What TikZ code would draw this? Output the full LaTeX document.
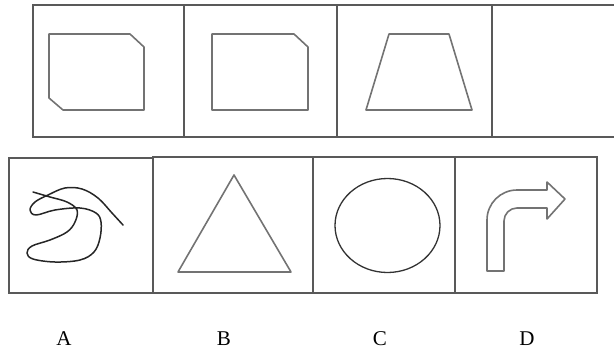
\documentclass[tikz,border=0pt]{standalone}
\usepackage{fontspec}
\setmainfont{Liberation Serif}
\begin{document}
\begin{tikzpicture}[x=1pt,y=-1pt,
  frame/.style={draw=black!65,line width=1.3pt},
  figline/.style={draw=black!55,line width=1.6pt,line join=round},
  ink/.style={draw=black!85,line width=1.5pt,line cap=round,line join=round},
  lbl/.style={font=\fontsize{21}{21}\selectfont,anchor=base,inner sep=0pt}]
\useasboundingbox (0,0) rectangle (614,351);
% top row frame
\draw[frame] (614,5) -- (33,5) -- (33,137) -- (614,137);
\draw[frame] (184,5) -- (184,137);
\draw[frame] (337,5) -- (337,137);
\draw[frame] (492,5) -- (492,137);
% figure 1
\draw[figline] (49,34) -- (130,34) -- (144,47) -- (144,110) -- (63,110) -- (49,98) -- cycle;
% figure 2
\draw[figline] (212,34) -- (294,34) -- (308,47) -- (308,110) -- (212,110) -- cycle;
% figure 3
\draw[figline] (389,34) -- (449,34) -- (472,110) -- (366,110) -- cycle;
% bottom row boxes
\draw[frame] (9,158) rectangle (153,293);
\draw[frame] (153,157) rectangle (313,293);
\draw[frame] (313,157) rectangle (455,293);
\draw[frame] (455,157) rectangle (597,293);
% A scribble
\draw[ink] plot[smooth,tension=0.6] coordinates {
 (33,192) (50,197) (67,202) (77,210) (75,222) (67,232) (50,240) (32,246)
 (27,253) (33,259) (55,262) (80,260) (94,252) (100,238) (101,222) (96,213)
 (80,208) (55,210) (36,215) (30,210) (35,202) (48,195) (65,188) (82,189)
 (98,198) (112,213) (123,225)};
% B triangle
\draw[figline] (234,175) -- (291,272) -- (178,272) -- cycle;
% C circle
\draw[draw=black!80,line width=1.3pt] (387.5,225.5) ellipse (52.5pt and 47pt);
% D arrow
\draw[figline] (487,271) -- (487,220) arc[start angle=180,end angle=270,radius=30] -- (547,190)
  -- (547,182) -- (565,199) -- (547,219) -- (547,208) -- (517,208)
  arc[start angle=270,end angle=180,radius=13] -- (504,271) -- cycle;
% labels
\node[lbl] (la) at (64,345) {A};
\node[lbl] (lb) at (224,345) {B};
\node[lbl] (lc) at (380,345) {C};
\node[lbl] (ld) at (527,345) {D};
\end{tikzpicture}
\end{document}
